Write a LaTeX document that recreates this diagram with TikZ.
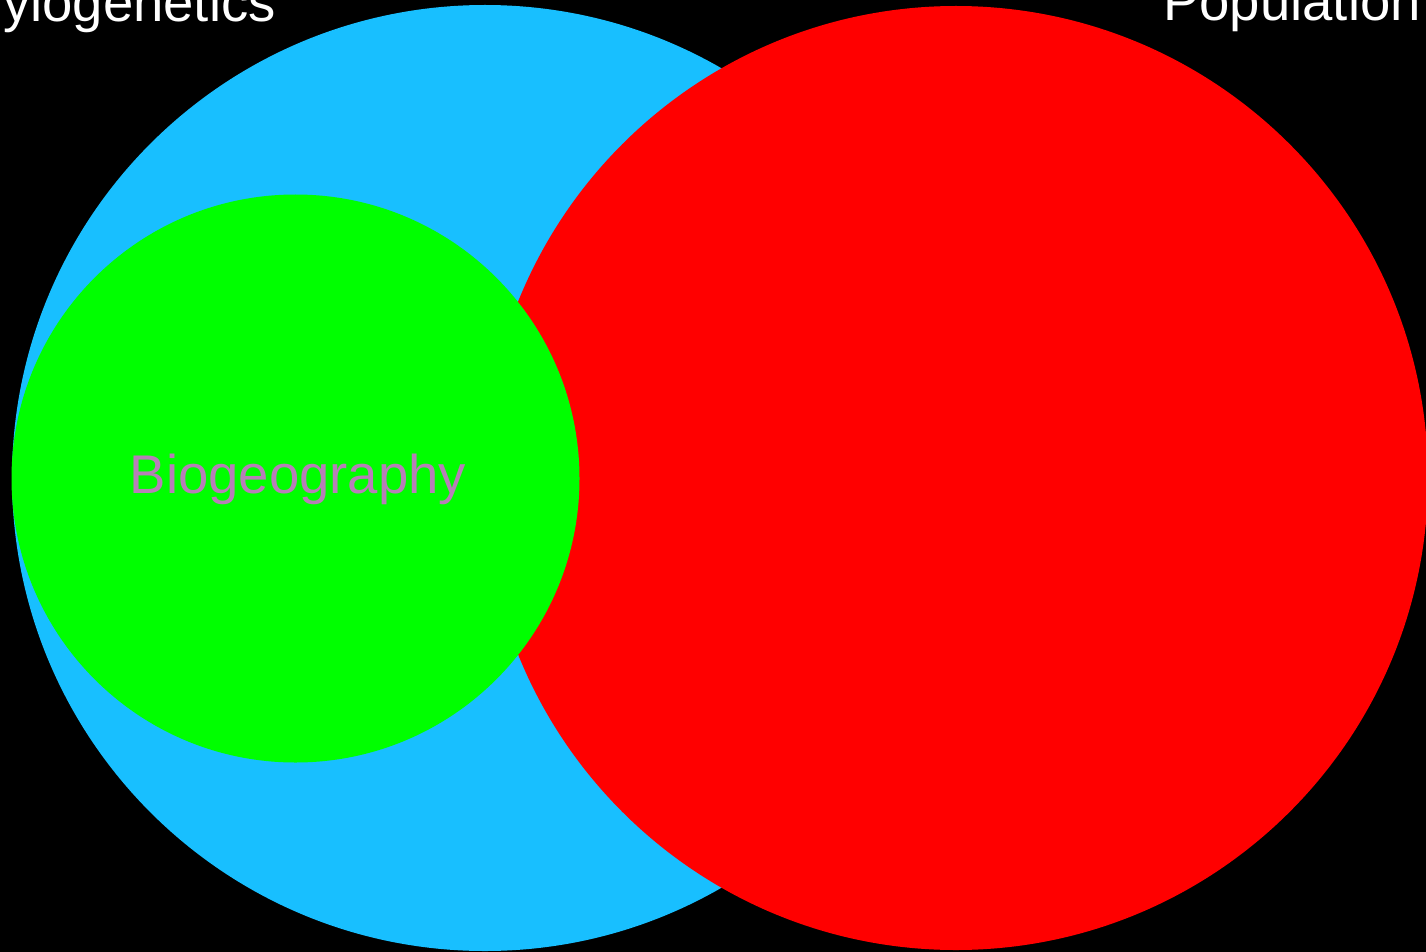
\documentclass[tikz,border=0pt]{standalone}
\usepackage{fontspec}
\setmainfont{Liberation Sans}
\definecolor{skyb}{RGB}{24,191,255}
\definecolor{redc}{RGB}{255,0,0}
\definecolor{greenc}{RGB}{0,255,0}
\definecolor{biolab}{RGB}{183,127,183}
\begin{document}
\begin{tikzpicture}[x=1pt,y=-1pt,
  setlabel/.style={inner sep=0pt,font=\fontsize{54.5}{60}\selectfont},
  disc/.style={circle,inner sep=0pt,draw=none}]
\fill[black] (0,0) rectangle (1426,952);
\useasboundingbox (0,0) rectangle (1426,952);
\node[disc,fill=skyb,minimum size=946pt] (phylo) at (485,478) {};
\node[disc,fill=redc,minimum size=944pt] (popgen) at (956,478) {};
\node[disc,fill=greenc,minimum size=568pt] (biogeo) at (295.5,478.5) {};
\node[setlabel,text=biolab,anchor=base] (biolabel) at (298,493) {Biogeography};
\node[setlabel,text=white,anchor=base east] (phylolabel) at (276,22) {Phylogenetics};
\node[setlabel,text=white,anchor=base east] (poplabel) at (1421,21) {Population};
\end{tikzpicture}
\end{document}
